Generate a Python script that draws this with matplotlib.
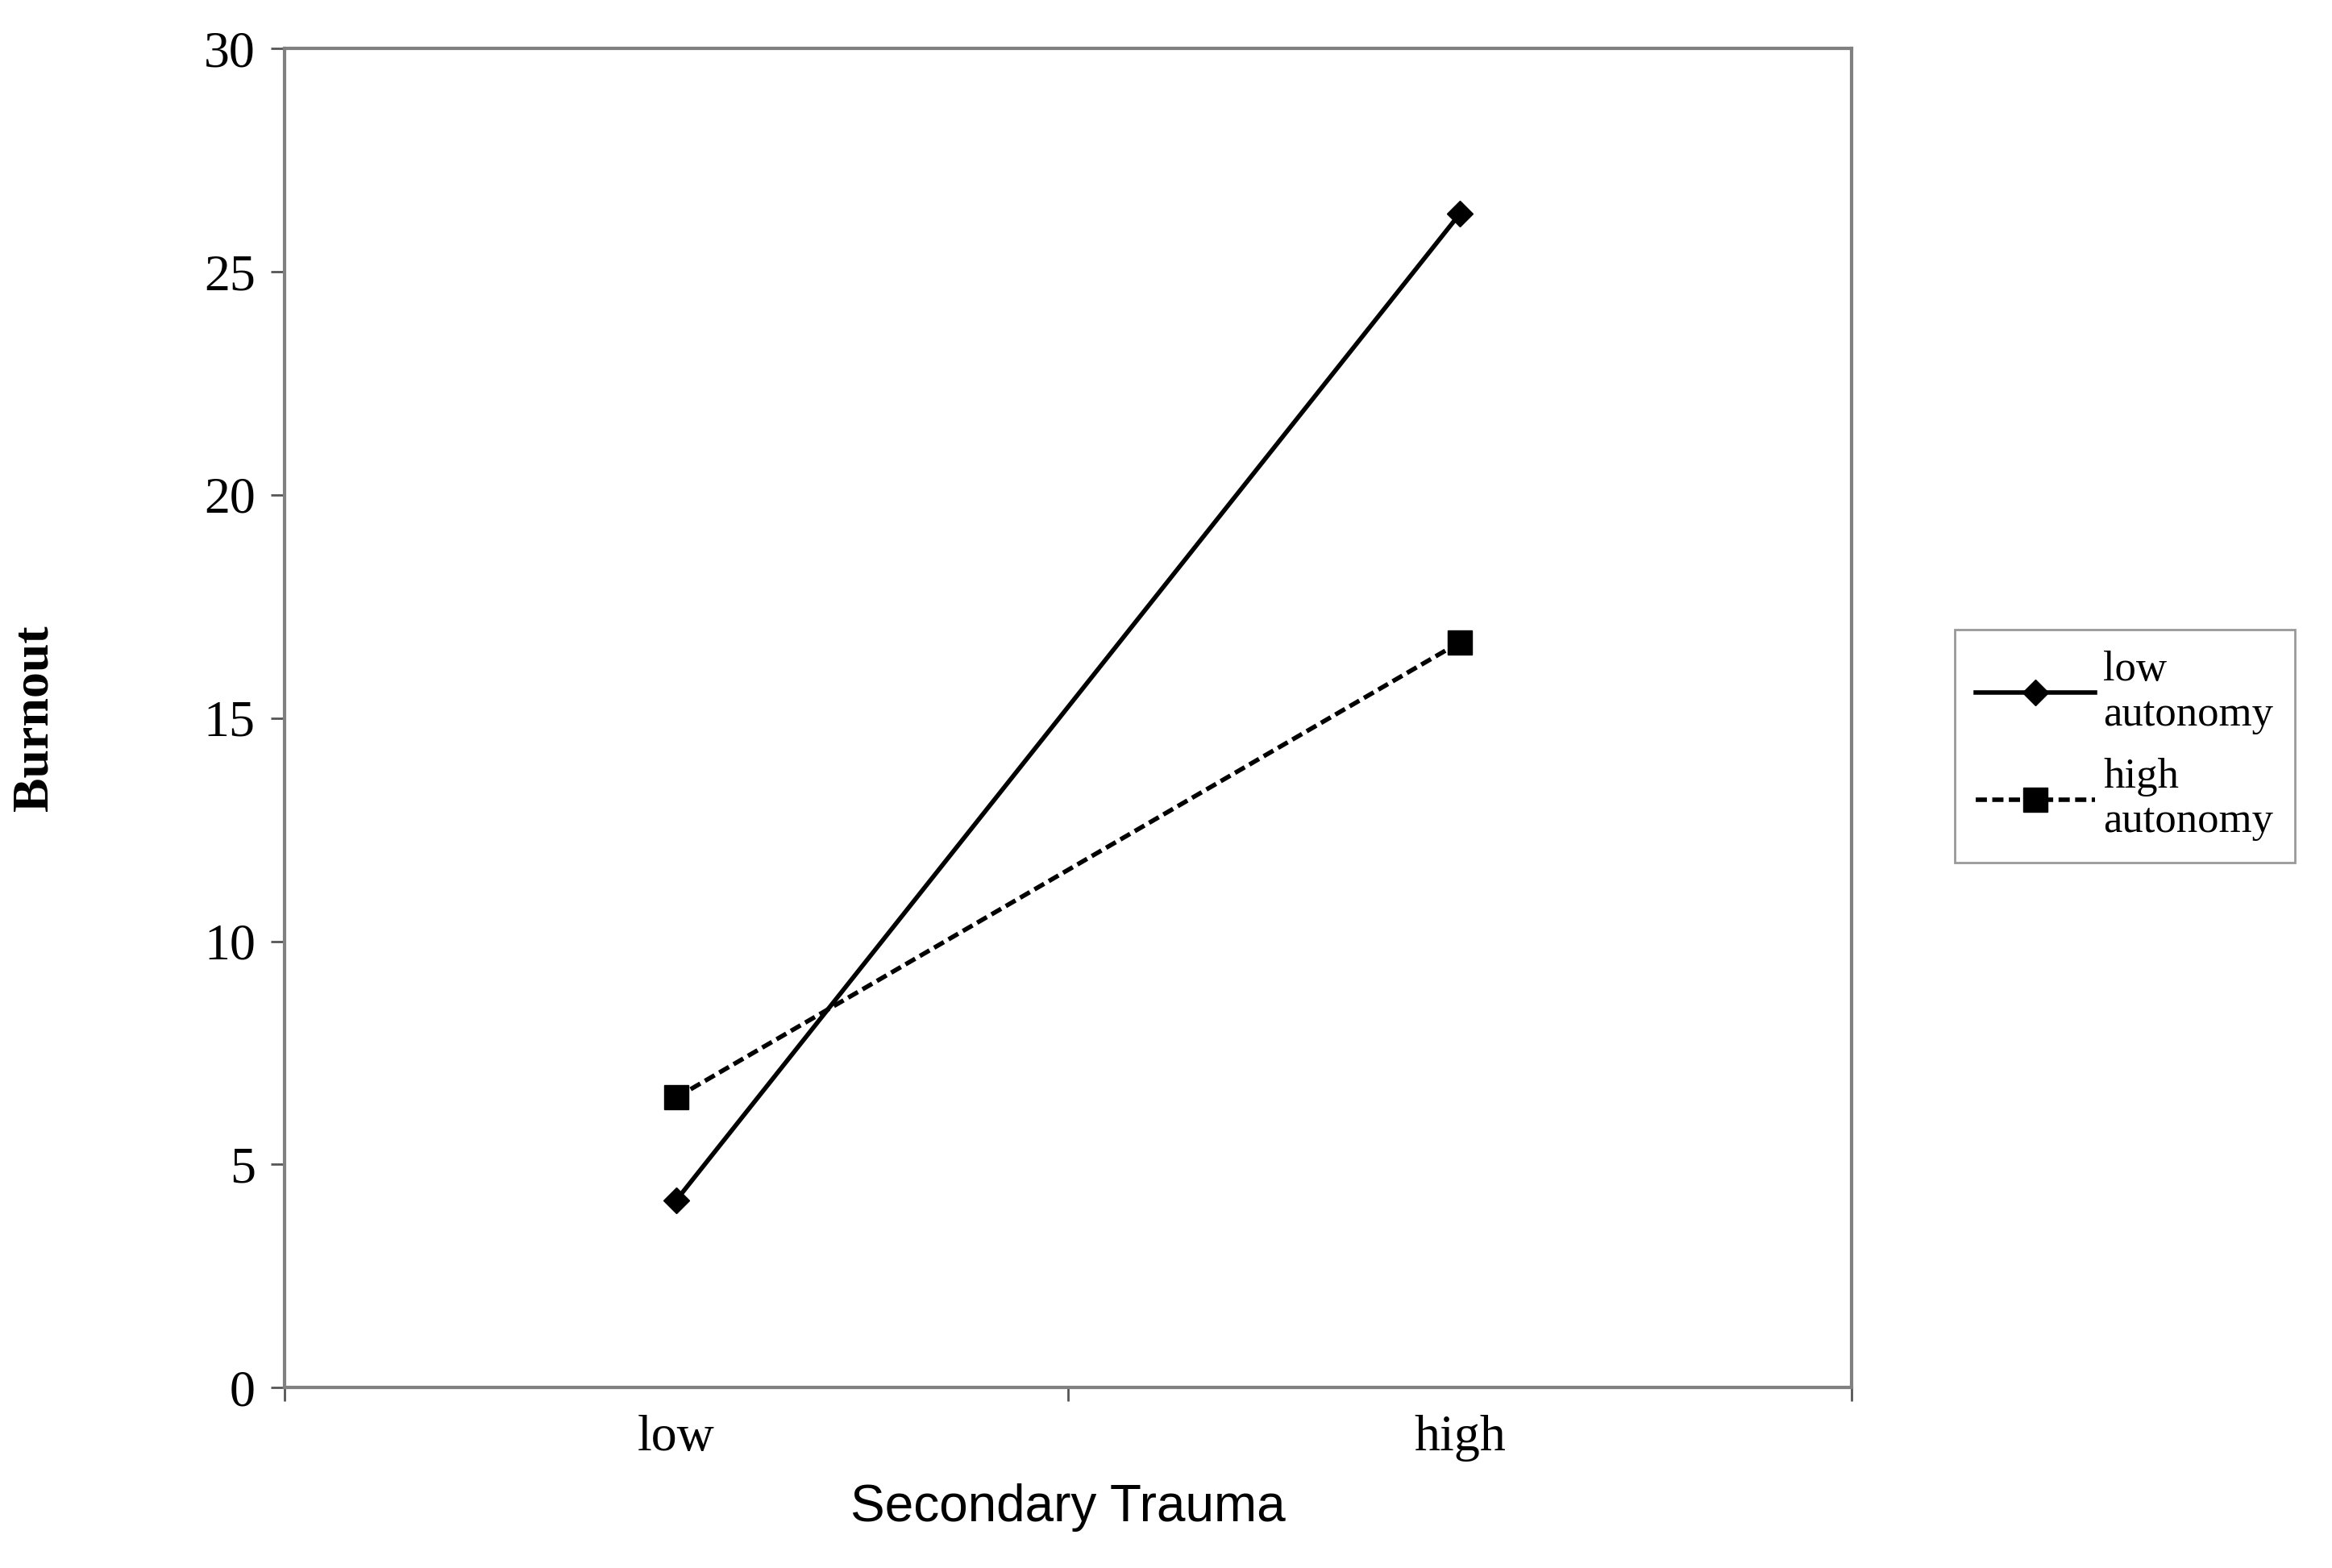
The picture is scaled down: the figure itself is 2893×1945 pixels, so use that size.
import numpy as np
import matplotlib.pyplot as plt

# Daten
categories = ["low", "high"]
low_autonomy = [4.2, 26.3]
high_autonomy = [6.5, 16.7]
series_labels = ["low\nautonomy", "high\nautonomy"]
y_ticks = [0, 5, 10, 15, 20, 25, 30]

fig = plt.figure(figsize=(28.93, 19.45), dpi=100)
ax = fig.add_axes([0.122, 0.115, 0.672, 0.854])

x = np.arange(len(categories)) + 0.5
ax.plot(x, low_autonomy, '-', color='black', lw=4, marker='D', ms=16, label=series_labels[0])
ax.plot(x, high_autonomy, '--', color='black', lw=4, marker='s', ms=22, label=series_labels[1],
        dashes=(2.5, 1.2))

ax.set_xlim(0, 2)
ax.set_ylim(0, 30)
ax.set_yticks(y_ticks)
ax.set_xticks([0, 1, 2])
ax.set_xticklabels([])
ax.set_xticks(x, minor=True)
ax.set_xticklabels(categories, minor=True)
ax.tick_params(axis='x', which='minor', length=0, pad=24)
ax.tick_params(axis='x', which='major', length=12, width=2, direction='out', color='#555555')
ax.tick_params(axis='y', length=12, width=2, direction='out', color='#555555', pad=14)
for lab in ax.get_yticklabels() + ax.get_xticklabels(minor=True):
    lab.set_fontfamily('Liberation Serif')
    lab.set_fontsize(46)
for s in ax.spines.values():
    s.set_color('#808080')
    s.set_linewidth(3)

ax.set_xlabel("Secondary Trauma", fontfamily='Liberation Sans', fontsize=46, labelpad=20)
ax.set_ylabel("Burnout", fontfamily='Liberation Serif', fontsize=46, fontweight='bold', labelpad=130)

leg = fig.legend(loc='upper left', bbox_to_anchor=(0.829, 0.612), prop={'family': 'Liberation Serif', 'size': 38},
                 frameon=True, fancybox=False, handlelength=2.8, labelspacing=0.55, borderpad=0.5,
                 handletextpad=0.2)
leg.get_frame().set_edgecolor('#808080')
leg.get_frame().set_linewidth(2)

plt.savefig("out.png", dpi=100)
